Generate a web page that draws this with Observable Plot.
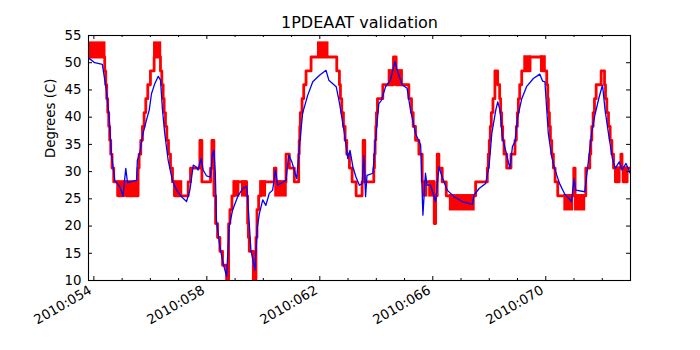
<!DOCTYPE html>
<html><head><meta charset="utf-8">
<script src="https://cdn.jsdelivr.net/npm/d3@7"></script>
<script src="https://cdn.jsdelivr.net/npm/@observablehq/plot@0.6"></script>
<style>body{margin:0;background:#fff;}</style>
</head><body><div id="chart"></div>
<script>
// Blue trace (smooth)
const blueDay = [53.83,54.03,54.30,54.44,54.54,54.62,54.74,54.92,55.03,55.13,55.19,55.51,55.54,55.62,55.74,55.86,55.96,56.04,56.16,56.28,56.36,56.43,56.51,56.63,56.78,56.93,57.10,57.28,57.40,57.52,57.61,57.69,57.79,57.87,57.99,58.13,58.20,58.25,58.30,58.34,58.46,58.58,58.70,58.79,58.91,59.09,59.27,59.41,59.48,59.56,59.70,59.79,59.86,59.98,60.09,60.21,60.33,60.43,60.51,60.80,60.90,61.01,61.18,61.28,61.39,61.57,61.75,61.99,62.22,62.32,62.58,62.70,62.87,62.99,63.07,63.17,63.28,63.40,63.50,63.56,63.62,63.67,63.88,63.97,64.09,64.18,64.33,64.50,64.66,64.74,64.92,65.09,65.21,65.39,65.57,65.65,65.74,65.80,65.92,66.10,66.22,66.33,66.51,66.75,67.04,67.40,67.46,67.64,67.87,67.99,68.09,68.23,68.30,68.38,68.46,68.62,68.73,68.82,68.91,69.01,69.15,69.32,69.56,69.79,69.89,69.97,70.09,70.21,70.31,70.49,70.67,70.91,71.00,71.06,71.38,71.50,71.62,71.74,71.89,72.01,72.10,72.22,72.36,72.46,72.60,72.70,72.84,72.99];
const blueTemp = [50.8,50.0,49.7,45.0,40.1,33.3,28.4,27.2,25.5,30.6,28.0,28.4,32.1,33.3,37.0,39.4,41.3,44.3,46.2,47.5,46.8,41.3,37.0,32.1,28.4,26.6,25.4,24.5,26.6,31.2,30.9,30.3,32.4,30.3,29.2,29.0,33.3,33.9,29.7,21.1,16.2,13.1,10.7,19.9,22.9,25.4,26.9,27.3,22.3,15.6,11.9,19.9,22.3,24.8,23.8,26.0,26.6,30.3,27.5,28.4,33.0,31.8,28.7,34.6,40.7,44.0,46.5,47.7,48.6,46.8,45.6,42.5,37.0,32.4,33.9,30.9,29.0,27.5,27.8,33.0,25.4,29.3,29.7,35.8,42.5,43.1,45.6,46.8,50.2,48.6,45.9,45.3,41.3,37.0,34.9,22.0,29.7,27.5,27.5,24.5,30.9,29.0,26.6,25.4,24.5,24.0,25.7,26.9,27.8,30.9,37.0,41.3,42.8,41.3,36.4,33.0,30.6,34.6,35.5,40.1,43.4,45.6,47.1,47.9,46.6,46.5,37.0,32.7,30.6,27.8,25.9,24.5,28.7,26.6,26.3,31.5,37.0,40.4,43.7,45.9,41.3,37.0,32.4,30.6,31.8,30.3,31.5,29.7];

// Red trace (quantized, stepped)
const redDay = [53.81,54.384,54.42,54.455,54.49,54.526,54.56,54.597,54.644,54.703,54.857,55.058,55.152,55.566,55.602,55.661,55.72,55.779,55.838,55.909,56.003,56.134,56.358,56.405,56.453,56.488,56.535,56.583,56.642,56.713,56.784,56.866,57.339,57.422,57.753,57.824,58.131,58.178,58.25,58.309,58.379,58.462,58.556,58.699,58.77,58.817,58.888,58.97,59.408,59.444,59.47,59.503,59.645,59.739,59.775,59.834,59.916,60.389,60.448,60.803,60.921,61.098,61.252,61.27,61.29,61.31,61.37,61.43,61.512,61.69,62.6,62.694,62.73,62.777,62.836,62.895,62.954,63.049,63.143,63.285,63.497,63.533,63.592,63.911,63.935,63.958,63.982,64.005,64.041,64.23,64.608,64.703,65.152,65.247,65.306,65.388,65.507,65.625,66.05,66.1,66.157,66.216,66.334,66.476,67.516,67.93,67.965,68.0,68.036,68.072,68.13,68.2,68.297,68.367,68.403,68.438,68.474,68.521,68.616,68.769,68.911,68.958,68.994,69.03,69.077,69.148,69.443,69.857,70.034,70.07,70.093,70.129,70.164,70.211,70.27,70.33,70.424,70.991,71.039,71.417,71.559,71.594,71.63,71.677,71.724,71.784,71.961,72.08,72.115,72.162,72.221,72.28,72.34,72.398,72.48,72.6,72.66,72.7,72.75,72.88,73.0];
const redTemp = [51.05,48.5,45.95,43.4,40.85,38.3,35.75,33.2,30.65,28.1,25.55,28.1,25.55,30.65,33.2,35.75,38.3,40.85,43.4,45.95,48.5,51.05,48.5,45.95,43.4,40.85,38.3,35.75,33.2,30.65,28.1,25.55,28.1,30.65,35.75,28.1,30.65,35.75,25.55,20.45,17.9,15.35,12.8,10.25,20.45,23.0,25.55,28.1,25.55,20.45,17.9,15.35,10.25,17.9,23.0,25.55,28.1,30.65,28.1,33.2,30.65,28.1,33.2,35.75,38.3,40.85,43.4,45.95,48.5,51.05,48.5,45.95,43.4,40.85,38.3,35.75,33.2,30.65,28.1,25.55,28.1,35.75,28.1,30.65,33.2,35.75,38.3,40.85,43.4,45.95,51.05,45.95,43.4,40.85,38.3,35.75,33.2,28.1,20.45,25.55,33.2,30.65,28.1,25.55,28.1,30.65,33.2,35.75,38.3,40.85,43.4,48.5,45.95,43.4,40.85,38.3,35.75,33.2,30.65,33.2,35.75,38.3,40.85,43.4,45.95,48.5,51.05,48.5,45.95,43.4,40.85,38.3,35.75,33.2,30.65,28.1,25.55,30.65,25.55,30.65,33.2,35.75,38.3,40.85,43.4,45.95,48.5,45.95,43.4,40.85,38.3,35.75,33.2,30.65,28.1,30.65,33.2,30.65,28.1,30.65,30.65];

// Red dithering intervals (rapid toggling between two adjacent levels)
const ditherStart = [53.83,54.857,55.152,56.157,56.866,58.97,59.27,59.916,60.448,61.961,64.466,65.684,65.9,66.63,69.266,69.857,70.684,71.063,72.48,72.75];
const ditherEnd   = [54.384,55.058,55.566,56.358,57.103,59.124,59.408,60.07,60.803,62.28,64.916,65.78,66.05,67.457,69.443,69.975,70.944,71.37,72.6,72.88];
const ditherLo    = [51.05,25.55,25.55,51.05,25.55,25.55,25.55,25.55,25.55,51.05,45.95,25.55,25.55,23.0,48.5,48.5,23.0,23.0,28.1,28.1];
const ditherHi    = [53.6,28.1,28.1,53.6,28.1,28.1,28.1,28.1,28.1,53.6,48.5,28.1,28.1,25.55,51.05,51.05,25.55,25.55,30.65,30.65];

// Axis ticks
const majorTicks = [54,58,62,66,70];
const majorLabels = ["2010:054","2010:058","2010:062","2010:066","2010:070"];
const minorTicks = [55,56,57,59,60,61,63,64,65,67,68,69,71,72];
const yTicks = [10,15,20,25,30,35,40,45,50,55];

const blue = blueDay.map((d,i)=>({day:d, temp:blueTemp[i]}));
const red = redDay.map((d,i)=>({day:d, temp:redTemp[i]}));
const dither = ditherStart.map((d,i)=>({x1:d, x2:ditherEnd[i], y1:ditherLo[i], y2:ditherHi[i]}));
const xLabels = majorTicks.map((d,i)=>({day:d, label:majorLabels[i]}));

const W=700, H=350, mL=88, mR=70, mT=35, mB=70;
const pw = W-mL-mR, ph = H-mT-mB;
const fs = 13.33;

const chart = Plot.plot({
  width: W, height: H,
  marginLeft: mL, marginRight: mR, marginTop: mT, marginBottom: mB,
  x: {domain: [53.81, 73.0], axis: null},
  y: {domain: [10, 55]},
  style: {fontFamily: "DejaVu Sans", fontSize: fs + "px", color: "#000", background: "#fff", overflow: "visible"},
  marks: [
    Plot.rect(dither, {x1:"x1", x2:"x2", y1:"y1", y2:"y2", fill:"#ff0000", stroke:"#ff0000", strokeWidth:2.5, clip:true}),
    Plot.line(red, {x:"day", y:"temp", curve:"step-after", stroke:"#ff0000", strokeWidth:2.8, clip:true}),
    Plot.line(blue, {x:"day", y:"temp", stroke:"#0000ff", strokeWidth:1.3, clip:true}),
    Plot.frame({stroke:"#000", strokeWidth:1.1}),
    Plot.ruleX(majorTicks, {x: d=>d, insetTop: ph-4, stroke:"#000"}),
    Plot.ruleX(majorTicks, {x: d=>d, insetBottom: ph-4, stroke:"#000"}),
    Plot.ruleX(minorTicks, {x: d=>d, insetTop: ph-2, stroke:"#000"}),
    Plot.ruleX(minorTicks, {x: d=>d, insetBottom: ph-2, stroke:"#000"}),
    Plot.ruleY(yTicks, {y: d=>d, insetRight: pw-4, stroke:"#000"}),
    Plot.ruleY(yTicks, {y: d=>d, insetLeft: pw-4, stroke:"#000"}),
    Plot.text(xLabels, {x:"day", text:"label", frameAnchor:"bottom", rotate:-30, textAnchor:"end",
      lineAnchor:"top", dx:-6, dy:4, fontSize: fs}),
    Plot.axisY(yTicks, {tickSize:0, tickPadding:7, label:null, fontSize: fs}),
    Plot.text(["Degrees (C)"], {frameAnchor:"left", dx:-38, rotate:-90, lineAnchor:"middle", fontSize: fs}),
    Plot.text(["1PDEAAT validation"], {frameAnchor:"top", dy:-13, lineAnchor:"middle", fontSize:16})
  ]
});
document.getElementById("chart").appendChild(chart);
</script>
</body></html>
